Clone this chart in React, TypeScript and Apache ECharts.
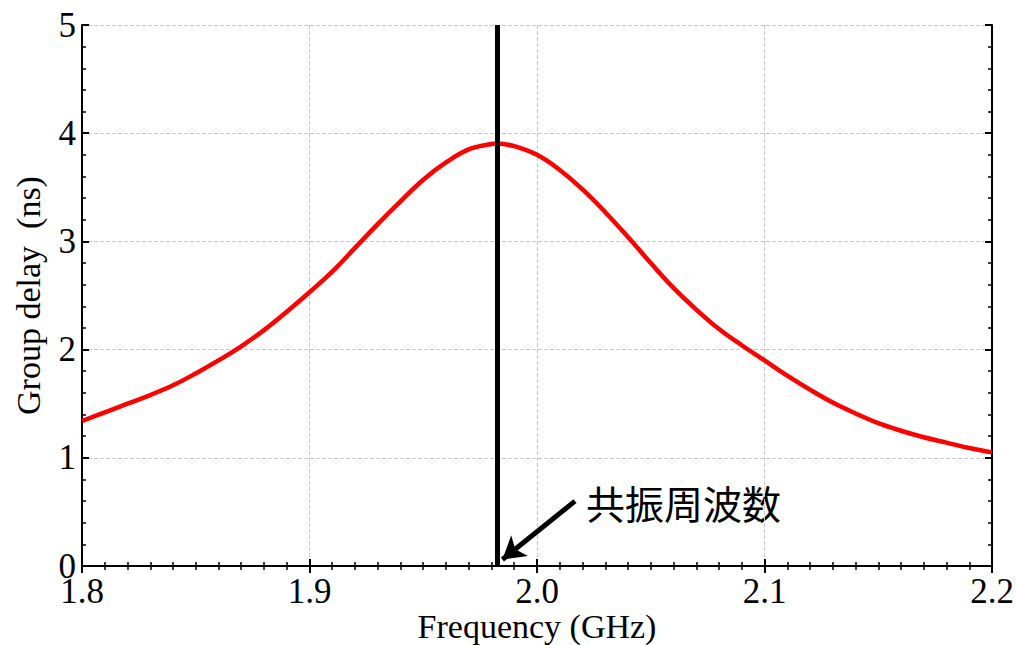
import React, { useEffect, useRef } from "react";
import * as echarts from "echarts";

const freqs = [
  1.80, 1.81, 1.82, 1.83, 1.84, 1.85, 1.86, 1.87, 1.88, 1.89,
  1.90, 1.91, 1.92, 1.93, 1.94, 1.95, 1.96, 1.97, 1.98, 1.9827, 1.99,
  2.00, 2.01, 2.02, 2.03, 2.04, 2.05, 2.06, 2.07, 2.08, 2.09,
  2.10, 2.11, 2.12, 2.13, 2.14, 2.15, 2.16, 2.17, 2.18, 2.19, 2.20,
];
const delays = [
  1.34, 1.42, 1.50, 1.58, 1.67, 1.78, 1.90, 2.03, 2.18, 2.35,
  2.53, 2.72, 2.94, 3.16, 3.37, 3.57, 3.73, 3.85, 3.90, 3.905, 3.88,
  3.80, 3.66, 3.48, 3.27, 3.04, 2.80, 2.57, 2.37, 2.19, 2.04,
  1.90, 1.76, 1.63, 1.51, 1.41, 1.32, 1.25, 1.19, 1.14, 1.09, 1.05,
];
const resonanceFreq = 1.9827;
const arrowStart = [2.0167, 0.6];
const arrowEnd = [1.9848, 0.06];
const annotation = "共振周波数";
const xTitle = "Frequency (GHz)";
const yTitle = "Group delay  (ns)";

const serif = "'Liberation Serif', 'DejaVu Serif', serif";

export default function App() {
  const ref = useRef<HTMLDivElement>(null);
  useEffect(() => {
    if (!ref.current) return;
    const chart = echarts.init(ref.current, null, { renderer: "svg" });
    const axisLine = { show: true, lineStyle: { color: "#000", width: 2 } };
    const splitLine = { show: true, lineStyle: { color: "#c8c8c8", type: "dashed", width: 1 } };
    const xCommon = {
      type: "value",
      min: 1.8,
      max: 2.2,
      interval: 0.1,
      axisLine,
      axisTick: { show: true, inside: true, length: 7, lineStyle: { color: "#000", width: 2 } },
      minorTick: { show: true, splitNumber: 10, length: 4, lineStyle: { color: "#000", width: 1.5 } },
    };
    const yCommon = {
      type: "value",
      min: 0,
      max: 5,
      interval: 1,
      axisLine,
      axisTick: { show: true, inside: true, length: 7, lineStyle: { color: "#000", width: 2 } },
      minorTick: { show: true, splitNumber: 5, length: 4, lineStyle: { color: "#000", width: 1.5 } },
    };
    chart.setOption({
      animation: false,
      backgroundColor: "#fff",
      grid: { left: 82, right: 24, top: 25, bottom: 79, outerBoundsMode: "none", containLabel: false },
      xAxis: [
        {
          ...xCommon,
          position: "bottom",
          name: xTitle,
          nameLocation: "middle",
          nameGap: 43,
          nameMoveOverlap: false,
          nameTextStyle: { fontFamily: serif, fontSize: 34, color: "#000" },
          axisLabel: {
            fontFamily: serif,
            fontSize: 35,
            color: "#000",
            margin: 8,
            formatter: (v: number) => v.toFixed(1),
          },
          splitLine,
        },
        {
          ...xCommon,
          position: "top",
          axisLabel: { show: false },
          splitLine: { show: false },
        },
      ],
      yAxis: [
        {
          ...yCommon,
          position: "left",
          name: yTitle,
          nameLocation: "middle",
          nameGap: 37,
          nameMoveOverlap: false,
          nameTextStyle: { fontFamily: serif, fontSize: 34, color: "#000" },
          axisLabel: { fontFamily: serif, fontSize: 35, color: "#000", margin: 6 },
          splitLine,
        },
        {
          ...yCommon,
          position: "right",
          axisLabel: { show: false },
          splitLine: { show: false },
        },
      ],
      series: [
        {
          type: "line",
          data: freqs.map((f, i) => [f, delays[i]]),
          smooth: 0.4,
          showSymbol: false,
          lineStyle: { color: "#ff0000", width: 4.5 },
          z: 3,
          markLine: {
            silent: true,
            precision: 4,
            symbol: ["none", "none"],
            label: { show: false },
            lineStyle: { color: "#000", width: 5, type: "solid" },
            data: [
              { xAxis: resonanceFreq },
              [
                { coord: arrowStart, symbol: "none" },
                { coord: arrowEnd, symbol: "arrow", symbolSize: [20, 22] },
              ],
            ],
            z: 5,
          },
        },
      ],
      graphic: [
        {
          type: "text",
          left: 586,
          top: 482,
          style: {
            text: annotation,
            font: "39px 'Noto Sans CJK JP'",
            fill: "#000",
          },
        },
      ],
    });
    return () => chart.dispose();
  }, []);
  return (
    <div
      ref={ref}
      style={{ position: "absolute", left: 0, top: 0, width: 1016, height: 645 }}
    />
  );
}
